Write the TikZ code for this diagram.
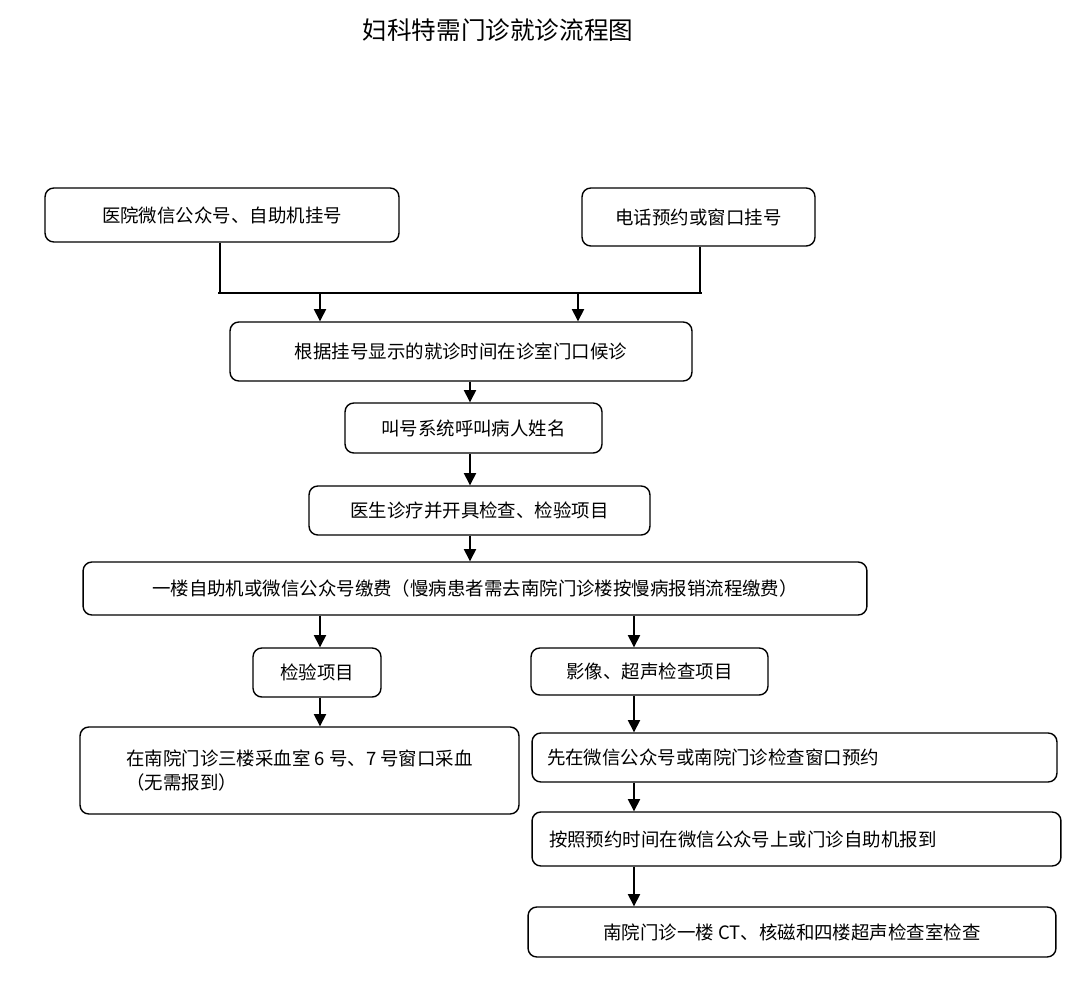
\documentclass[tikz,border=0pt]{standalone}
\usepackage{fontspec}
\setmainfont{Noto Sans CJK SC}
\usetikzlibrary{arrows.meta}
\tikzset{
  flowbox/.style={draw=black,thick,rounded corners=5pt,inner sep=0pt,font=\fontsize{10.5pt}{14pt}\selectfont},
  arr/.style={thick,-{Triangle[length=7pt,width=7pt]}}
}
\begin{document}
\begin{tikzpicture}[x=0.02cm,y=-0.02cm]
\useasboundingbox (0,0) rectangle (1080,1001);
\node[font=\fontsize{14pt}{16pt}\selectfont] (title) at (498,30) {妇科特需门诊就诊流程图};

\node[flowbox,minimum width=7.08cm,minimum height=1.08cm] (reg1) at (222,215) {医院微信公众号、自助机挂号};
\node[flowbox,minimum width=4.66cm,minimum height=1.16cm] (reg2) at (698.5,217) {电话预约或窗口挂号};
\node[flowbox,minimum width=9.24cm,minimum height=1.18cm] (wait) at (461,351.5) {根据挂号显示的就诊时间在诊室门口候诊};
\node[flowbox,minimum width=5.14cm,minimum height=1.0cm] (call) at (473.5,428) {叫号系统呼叫病人姓名};
\node[flowbox,minimum width=6.82cm,minimum height=0.98cm] (doc) at (479.5,510.5) {医生诊疗并开具检查、检验项目};
\node[flowbox,minimum width=15.68cm,minimum height=1.06cm] (pay) at (475,588.5) {一楼自助机或微信公众号缴费（慢病患者需去南院门诊楼按慢病报销流程缴费）};
\node[flowbox,minimum width=2.56cm,minimum height=0.98cm] (lab) at (317,672.5) {检验项目};
\node[flowbox,minimum width=4.74cm,minimum height=0.94cm] (img) at (649.5,671.5) {影像、超声检查项目};
\node[flowbox,minimum width=8.78cm,minimum height=1.74cm,align=left] (blood) at (299.5,770.5) {在南院门诊三楼采血室 6 号、7 号窗口采血\\（无需报到）};
\node[flowbox,minimum width=10.5cm,minimum height=0.98cm,text width=9.9cm] (book) at (794.5,757.5) {先在微信公众号或南院门诊检查窗口预约};
\node[flowbox,minimum width=10.58cm,minimum height=1.08cm,text width=9.9cm] (check) at (796.5,839) {按照预约时间在微信公众号上或门诊自助机报到};
\node[flowbox,minimum width=10.56cm,minimum height=1.0cm] (exam) at (792,932) {南院门诊一楼 CT、核磁和四楼超声检查室检查};

% join of the two ways to register
\coordinate (jl) at (218,293);
\coordinate (jr) at (702,293);
\coordinate (dl) at (220,0);
\coordinate (dr) at (700,0);
\coordinate (c1) at (320,0);
\coordinate (c2) at (578,0);
\coordinate (c3) at (470,0);
\coordinate (c4) at (634,0);
\draw[thick] (reg1.south -| dl) -- (jl -| dl);
\draw[thick] (reg2.south -| dr) -- (jr -| dr);
\draw[thick] (jl) -- (jr);
\draw[arr] (jl -| c1) -- (wait.north -| c1);
\draw[arr] (jl -| c2) -- (wait.north -| c2);
\draw[arr] (wait.south -| c3) -- (call.north -| c3);
\draw[arr] (call.south -| c3) -- (doc.north -| c3);
\draw[arr] (doc.south -| c3) -- (pay.north -| c3);
\draw[arr] (pay.south -| c1) -- (lab.north -| c1);
\draw[arr] (pay.south -| c4) -- (img.north -| c4);
\draw[arr] (lab.south -| c1) -- (blood.north -| c1);
\draw[arr] (img.south -| c4) -- (book.north -| c4);
\draw[arr] (book.south -| c4) -- (check.north -| c4);
\draw[arr] (check.south -| c4) -- (exam.north -| c4);
\end{tikzpicture}
\end{document}
